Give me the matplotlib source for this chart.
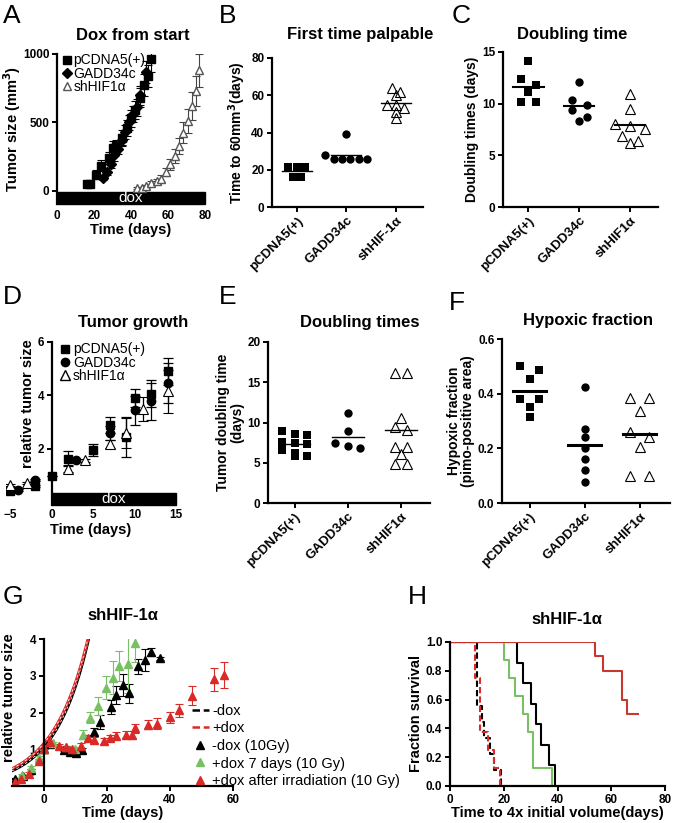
import numpy as np
import matplotlib
matplotlib.use("Agg")
import matplotlib.pyplot as plt
from matplotlib.lines import Line2D

plt.rcParams['font.family'] = ['Liberation Sans', 'DejaVu Sans']
plt.rcParams['font.weight'] = 'bold'
plt.rcParams['axes.labelweight'] = 'bold'
plt.rcParams['axes.linewidth'] = 1.6
plt.rcParams['xtick.major.width'] = 1.4
plt.rcParams['ytick.major.width'] = 1.4
plt.rcParams['xtick.major.size'] = 3.5
plt.rcParams['ytick.major.size'] = 3.5

W, H = 679, 823

# ---------------- data ----------------
# A: dox from start (tumor size, mm3)
a_pc_t = [16, 18, 21, 24, 28, 30, 32, 35, 38, 40, 42, 45, 47, 49, 51]
a_pc_y = [50, 50, 120, 185, 240, 315, 325, 390, 460, 530, 590, 680, 775, 840, 960]
a_pc_e = [15, 15, 30, 40, 45, 50, 50, 55, 60, 60, 65, 70, 80, 80, 90]
a_gd_t = [25, 27, 29, 31, 33, 35, 37, 39, 41, 43, 45, 48]
a_gd_y = [95, 140, 200, 260, 310, 370, 430, 500, 560, 610, 700, 870]
a_gd_e = [15, 25, 30, 40, 40, 45, 50, 55, 60, 60, 70, 80]
a_hf_t = [43, 46, 48, 51, 54, 56, 59, 61, 64, 66, 68, 71, 73, 75, 77]
a_hf_y = [20, 20, 33, 57, 70, 90, 137, 194, 255, 328, 425, 510, 620, 730, 880]
a_hf_e = [8, 8, 12, 15, 20, 25, 30, 40, 50, 60, 75, 90, 100, 110, 120]

groups3 = ['pCDNA5(+)', 'GADD34c', 'shHIF1α']
groups3_b = ['pCDNA5(+)', 'GADD34c', 'shHIF-1α']

# B: first time palpable (days to 60 mm3)
b_vals = [[21.5, 21.5, 21.5, 16, 16],
          [39, 28, 26, 26, 26, 26, 26],
          [64, 62, 60, 55, 53, 55, 51, 48]]
b_mean = [19.5, 27.8, 56]

# C: doubling time (days)
c_vals = [[14.1, 12.4, 11.1, 11.8, 10.2, 10.2],
          [12.1, 10.4, 9.9, 9.35, 8.3, 8.75],
          [10.9, 9.5, 7.8, 7.55, 8.0, 6.9, 6.2, 6.4]]
c_mean = [11.6, 9.8, 7.9]

# D: tumor growth (relative size)
d_pc_t = [-5, -2, 0, 2, 5, 7, 9, 10, 12, 14]
d_pc_y = [0.44, 0.61, 1.0, 1.63, 1.96, 2.9, 2.45, 3.9, 4.07, 4.9]
d_pc_e = [0.04, 0.05, 0, 0.28, 0.22, 0.3, 0.75, 0.35, 0.5, 0.5]
d_gd_t = [-4, -2, 3, 7, 10, 12, 14]
d_gd_y = [0.46, 0.83, 1.57, 2.59, 3.44, 3.78, 4.48]
d_gd_e = [0.03, 0.05, 0.05, 0.25, 0.55, 0.7, 0.75]
d_hf_t = [-5, -3, 2, 4, 7, 9, 11, 14]
d_hf_y = [0.65, 0.71, 1.26, 1.57, 2.18, 2.6, 3.48, 4.15]
d_hf_e = [0.03, 0.04, 0.12, 0.05, 0.15, 0.55, 0.45, 0.8]

# E: tumor doubling time (days)
e_vals = [[8.6, 8.9, 8.5, 7.6, 7.4, 7.3, 6.6, 6.2, 5.8, 5.9],
          [11.2, 9.0, 7.4, 6.8, 7.1],
          [16.2, 16.2, 10.5, 9.1, 9.5, 7.0, 7.0, 6.1, 4.9, 4.9]]
e_mean = [7.3, 8.2, 9.1]

# F: hypoxic fraction
f_vals = [[0.50, 0.485, 0.455, 0.38, 0.38, 0.353, 0.316],
          [0.424, 0.27, 0.242, 0.203, 0.16, 0.12, 0.077],
          [0.383, 0.383, 0.338, 0.242, 0.26, 0.206, 0.098, 0.098]]
f_mean = [0.41, 0.214, 0.252]

# G: shHIF-1a relative tumor size
g_fit_labels = ['-dox', '+dox']
g_fit_a = [1.05, 1.15]      # size at day 0 from exponential fit
g_fit_td = [7.4, 7.8]       # fitted doubling time (days)
g_blk_t = [-9, -6.6, -4, 0, 2, 6.4, 8.5, 10.4, 12.2, 16, 18, 21.4, 23, 25, 27, 30, 32, 34, 37]
g_blk_y = [0.2, 0.27, 0.43, 1.0, 1.14, 0.99, 0.93, 0.9, 0.97, 1.47, 1.74, 2.15, 2.47, 2.74, 2.52, 3.26, 3.44, 3.65, 3.47]
g_blk_e = [0.02, 0.03, 0.04, 0, 0.05, 0.05, 0.05, 0.05, 0.06, 0.1, 0.2, 0.18, 0.25, 0.3, 0.25, 0.2, 0.3, 0.1, 0.05]
g_grn_t = [-6.8, -4, -1.3, 0, 3, 7, 10, 12.6, 14.8, 17.1, 19.9, 22.1, 24, 26.9, 29]
g_grn_y = [0.3, 0.5, 0.76, 1.0, 1.16, 1.05, 1.02, 1.4, 1.86, 2.18, 2.68, 2.95, 3.27, 3.33, 3.88]
g_grn_e = [0.03, 0.04, 0.05, 0, 0.05, 0.05, 0.05, 0.12, 0.15, 0.25, 0.3, 0.45, 0.4, 0.8, 0.5]
g_red_t = [-9, -7, -4.5, -1.5, 0, 2, 5, 7, 9, 12, 14, 16, 19, 21, 23, 26, 28, 29, 33, 36, 40, 43, 47, 54, 57]
g_red_y = [0.12, 0.2, 0.33, 0.68, 1.0, 1.2, 1.1, 1.05, 1.0, 1.1, 1.3, 1.25, 1.22, 1.3, 1.37, 1.4, 1.4, 1.57, 1.67, 1.7, 1.87, 2.06, 2.46, 2.9, 3.02]
g_red_e = [0.02, 0.03, 0.04, 0.05, 0, 0.05, 0.05, 0.05, 0.05, 0.06, 0.08, 0.08, 0.08, 0.08, 0.1, 0.1, 0.1, 0.12, 0.12, 0.15, 0.15, 0.18, 0.25, 0.32, 0.35]
g_pt_labels = ['-dox (10Gy)', '+dox 7 days (10 Gy)', '+dox after irradiation (10 Gy)']

# H: survival (time to 4x initial volume)
h_nodox_t = [0, 10, 12, 12.5, 15, 16.5, 19]
h_nodox_s = [1, 0.556, 0.444, 0.333, 0.222, 0.111, 0]
h_dox_t = [0, 9.3, 11, 14, 16.5, 18.5]
h_dox_s = [1, 0.75, 0.375, 0.25, 0.125, 0]
h_irr_t = [0, 25, 27, 30, 32, 34, 37, 39]
h_irr_s = [1, 0.857, 0.714, 0.571, 0.429, 0.286, 0.143, 0]
h_d7_t = [0, 20, 22, 24, 27, 29, 31, 38]
h_d7_s = [1, 0.875, 0.75, 0.625, 0.5, 0.375, 0.125, 0]
h_after_t = [0, 54, 57, 64, 66, 70]
h_after_s = [1, 0.9, 0.8, 0.6, 0.5, 0.5]

RED = '#d92a27'
GREEN = '#79bf63'
DRED = '#c8382f'

fig = plt.figure(figsize=(W / 100, H / 100), dpi=100)


def axes_px(left, top, right, bottom):
    return fig.add_axes([left / W, 1 - bottom / H, (right - left) / W, (bottom - top) / H])


def ftext(x, y, s, **kw):
    fig.text(x / W, 1 - y / H, s, **kw)


def clean(ax):
    ax.spines['top'].set_visible(False)
    ax.spines['right'].set_visible(False)
    ax.tick_params(labelsize=8.5, pad=2)


def swarm(vals, tol, step):
    # spread points with similar values side by side
    vals = np.asarray(vals, dtype=float)
    offs = np.zeros(len(vals))
    order = np.argsort(-vals)
    bins = []
    for i in order:
        if bins and abs(vals[i] - vals[bins[-1][0]]) < tol:
            bins[-1].append(i)
        else:
            bins.append([i])
    for b in bins:
        n = len(b)
        for k, i in enumerate(b):
            offs[i] = (k - (n - 1) / 2) * step
    return offs


def dot_panel(ax, vals, means, labels, ylim, yticks, tol, step=0.23, mean_lw=1.2, fmt=None):
    markers = [('s', 'k'), ('o', 'k'), ('^', 'none')]
    for i, (v, m) in enumerate(zip(vals, means)):
        xs = i + swarm(v, tol, step)
        mk, fc = markers[i]
        ax.plot(xs, v, linestyle='none', marker=mk, ms=6 if mk != '^' else 6.5,
                mfc=fc, mec='k', mew=0.8 if mk == '^' else 0)
        ax.plot([i - 0.3, i + 0.3], [m, m], color='k', lw=mean_lw)
    ax.set_xlim(-0.5, 2.55)
    ax.set_ylim(*ylim)
    ax.set_yticks(yticks)
    if fmt:
        ax.set_yticklabels([fmt % t for t in yticks])
    ax.set_xticks(range(3))
    ax.set_xticklabels(labels, rotation=45, ha='right', rotation_mode='anchor', fontsize=9.5)
    clean(ax)
    ax.tick_params(axis='x', labelsize=9.5)


leg_kw = dict(frameon=False, borderpad=0, prop={'weight': 'normal', 'size': 10})

# ---------------- A ----------------
ax = axes_px(57, 54, 205, 204)
ax.errorbar(a_pc_t, a_pc_y, yerr=a_pc_e, fmt='s', color='k', ms=6, capsize=3, elinewidth=0.8, capthick=0.8)
ax.errorbar(a_gd_t, a_gd_y, yerr=a_gd_e, fmt='D', color='k', ms=5.5, capsize=3, elinewidth=0.8, capthick=0.8)
ax.errorbar(a_hf_t, a_hf_y, yerr=a_hf_e, fmt='^', color='#444444', mfc='white', mec='#555555', ms=6,
            capsize=3, elinewidth=0.8, capthick=0.8)
ax.add_patch(plt.Rectangle((0, -95), 80, 85, color='k', clip_on=False))
ax.text(40, -52, 'dox', color='white', ha='center', va='center', fontsize=11, fontweight='normal')
ax.set_xlim(0, 80)
ax.set_ylim(-95, 1000)
ax.set_xticks([0, 20, 40, 60, 80])
ax.set_yticks([0, 500, 1000])
clean(ax)
ax.spines['bottom'].set_visible(False)
ax.tick_params(axis='x', length=0, pad=4)
ax.set_xlabel('Time (days)', fontsize=10.5, labelpad=1)
ax.set_ylabel('Tumor size (mm$^\\mathbf{3}$)', fontsize=10.5)
ax.yaxis.set_label_coords(-0.23, 0.5)
hA = [Line2D([], [], ls='none', marker='s', color='k', ms=6),
      Line2D([], [], ls='none', marker='D', color='k', ms=5.5),
      Line2D([], [], ls='none', marker='^', mfc='white', mec='#555555', ms=6)]
ax.legend(hA, groups3, loc='upper left', bbox_to_anchor=(-0.01, 1.05),
          handlelength=0.6, handletextpad=0.2, labelspacing=-0.05, **leg_kw)

# ---------------- B ----------------
ax = axes_px(272, 58, 423, 207)
dot_panel(ax, b_vals, b_mean, groups3_b, (0, 80), [0, 20, 40, 60, 80], tol=3, step=0.17, mean_lw=1.0)
ax.set_ylabel('Time to 60mm$^\\mathbf{3}$(days)', fontsize=10, labelpad=2)

# ---------------- C ----------------
ax = axes_px(503, 52, 658, 207)
dot_panel(ax, c_vals, c_mean, groups3, (0, 15), [0, 5, 10, 15], tol=0.7, step=0.3, mean_lw=1.5)
ax.set_ylabel('Doubling times (days)', fontsize=10, labelpad=2)

# ---------------- D ----------------
ax = axes_px(6, 342, 176, 505)
ax.errorbar(d_pc_t, d_pc_y, yerr=d_pc_e, fmt='s', color='k', ms=6, capsize=3.5, elinewidth=0.9, capthick=0.9)
ax.errorbar(d_gd_t, d_gd_y, yerr=d_gd_e, fmt='o', color='k', ms=6, capsize=3.5, elinewidth=0.9, capthick=0.9)
ax.errorbar(d_hf_t, d_hf_y, yerr=d_hf_e, fmt='^', color='k', mfc='white', mec='k', ms=6.5, mew=0.8,
            capsize=3.5, elinewidth=0.9, capthick=0.9)
ax.add_patch(plt.Rectangle((0, -0.1), 15, 0.45, color='k', clip_on=False))
ax.text(7.5, 0.12, 'dox', color='white', ha='center', va='center', fontsize=11, fontweight='normal')
ax.set_xlim(-5.5, 15)
ax.set_ylim(-0.1, 6)
ax.set_xticks([-5, 0, 5, 10, 15])
ax.set_yticks([2, 4, 6])
clean(ax)
ax.spines['left'].set_position(('data', 0))
ax.spines['bottom'].set_visible(False)
ax.tick_params(axis='x', length=0, pad=3)
ax.set_xlabel('Time (days)', fontsize=10.5, labelpad=1)
ax.set_ylabel('relative tumor size', fontsize=10.5)
ax.yaxis.set_label_coords(0.17, 0.62)
hD = [Line2D([], [], ls='none', marker='s', color='k', ms=6),
      Line2D([], [], ls='none', marker='o', color='k', ms=6),
      Line2D([], [], ls='none', marker='^', mfc='white', mec='k', ms=6.5)]
ax.legend(hD, groups3, loc='upper left', bbox_to_anchor=(0.28, 1.04),
          handlelength=0.6, handletextpad=0.3, labelspacing=-0.05, **leg_kw)

# ---------------- E ----------------
ax = axes_px(268, 342, 430, 503)
dot_panel(ax, e_vals, e_mean, groups3, (0, 20), [0, 5, 10, 15, 20], tol=0.7, step=0.23, mean_lw=1.0)
ax.set_ylabel('Tumor doubling time\n(days)', fontsize=10, labelpad=2, linespacing=1.0)

# ---------------- F ----------------
ax = axes_px(502, 339, 670, 503)
dot_panel(ax, f_vals, f_mean, groups3, (0, 0.6), [0, 0.2, 0.4, 0.6], tol=0.02, step=0.35,
          mean_lw=2.2, fmt='%.1f')
ax.set_ylabel('Hypoxic fraction\n(pimo-positive area)', fontsize=10, labelpad=2, linespacing=1.0)

# ---------------- G ----------------
ax = axes_px(12, 639, 233, 786)
tt = np.linspace(-10, 16, 200)
for a, td, c in zip(g_fit_a, g_fit_td, ['k', RED]):
    ax.plot(tt, a * 2 ** (tt / td), color=c, lw=2.0)
    ax.plot(tt, a * 2 ** (tt / td), color='white', lw=0.6, dashes=(3, 3))
ek = dict(capsize=3, elinewidth=0.8, capthick=0.8, ms=5.5, ls='none')
ax.errorbar(g_blk_t, g_blk_y, yerr=g_blk_e, marker='^', color='k', **ek)
ax.errorbar(g_grn_t, g_grn_y, yerr=g_grn_e, marker='^', color=GREEN, **ek)
ax.errorbar(g_red_t, g_red_y, yerr=g_red_e, marker='^', color=RED, **ek)
ax.set_xlim(-10, 60)
ax.set_ylim(0, 4)
ax.set_xticks([0, 20, 40, 60])
ax.set_yticks([1, 2, 3, 4])
clean(ax)
ax.spines['left'].set_position(('data', 0))
ax.set_xlabel('Time (days)', fontsize=10.5, labelpad=0)
ax.set_ylabel('relative tumor size', fontsize=10.5)
ax.yaxis.set_label_coords(0.02, 0.6)
hG = [Line2D([], [], color='k', lw=1.8, dashes=(3, 1.5)),
      Line2D([], [], color=RED, lw=1.8, dashes=(3, 1.5)),
      Line2D([], [], ls='none', marker='^', color='k', ms=5.5),
      Line2D([], [], ls='none', marker='^', color=GREEN, ms=5.5),
      Line2D([], [], ls='none', marker='^', color=RED, ms=5.5)]
ax.legend(hG, g_fit_labels + g_pt_labels, loc='upper left', bbox_to_anchor=(0.78, 0.61),
          handlelength=1.2, handletextpad=0.2, labelspacing=0.25,
          frameon=False, borderpad=0, prop={'weight': 'normal', 'size': 10.5})

# ---------------- H ----------------
ax = axes_px(450, 642, 665, 786)
ax.step(h_irr_t, h_irr_s, where='post', color='k', lw=1.5)
ax.step(h_d7_t, h_d7_s, where='post', color=GREEN, lw=1.5)
ax.step(h_after_t, h_after_s, where='post', color=DRED, lw=1.5)
ax.step(h_nodox_t, h_nodox_s, where='post', color='k', lw=1.5, dashes=(3, 1.5))
ax.step(h_dox_t, h_dox_s, where='post', color=RED, lw=1.5, dashes=(3, 1.5))
ax.set_xlim(0, 80)
ax.set_ylim(0, 1.0)
ax.set_xticks([0, 20, 40, 60, 80])
ax.set_yticks([0, 0.2, 0.4, 0.6, 0.8, 1.0])
ax.set_yticklabels(['%.1f' % v for v in [0, 0.2, 0.4, 0.6, 0.8, 1.0]])
clean(ax)
ax.set_xlabel('Time to 4x initial volume(days)', fontsize=10.5, labelpad=0)
ax.set_ylabel('Fraction survival', fontsize=10.5, labelpad=2)

# ---------------- titles and panel letters ----------------
titles = [('Dox from start', 133, 35), ('First time palpable', 360, 35), ('Doubling time', 572, 35),
          ('Tumor growth', 133, 323), ('Doubling times', 360, 322), ('Hypoxic fraction', 588, 320),
          ('shHIF-1α', 123, 615), ('shHIF-1α', 567, 620)]
for s, x, y in titles:
    ftext(x, y, s, ha='center', va='center', fontsize=12, fontweight='bold')

letters = [('A', 12, 16), ('B', 228, 16), ('C', 461, 16), ('D', 12, 297), ('E', 228, 297),
           ('F', 457, 303), ('G', 13, 597), ('H', 417, 597)]
for s, x, y in letters:
    ftext(x, y, s, ha='center', va='center', fontsize=19, fontweight='normal')

fig.savefig('out.png', dpi=100)
